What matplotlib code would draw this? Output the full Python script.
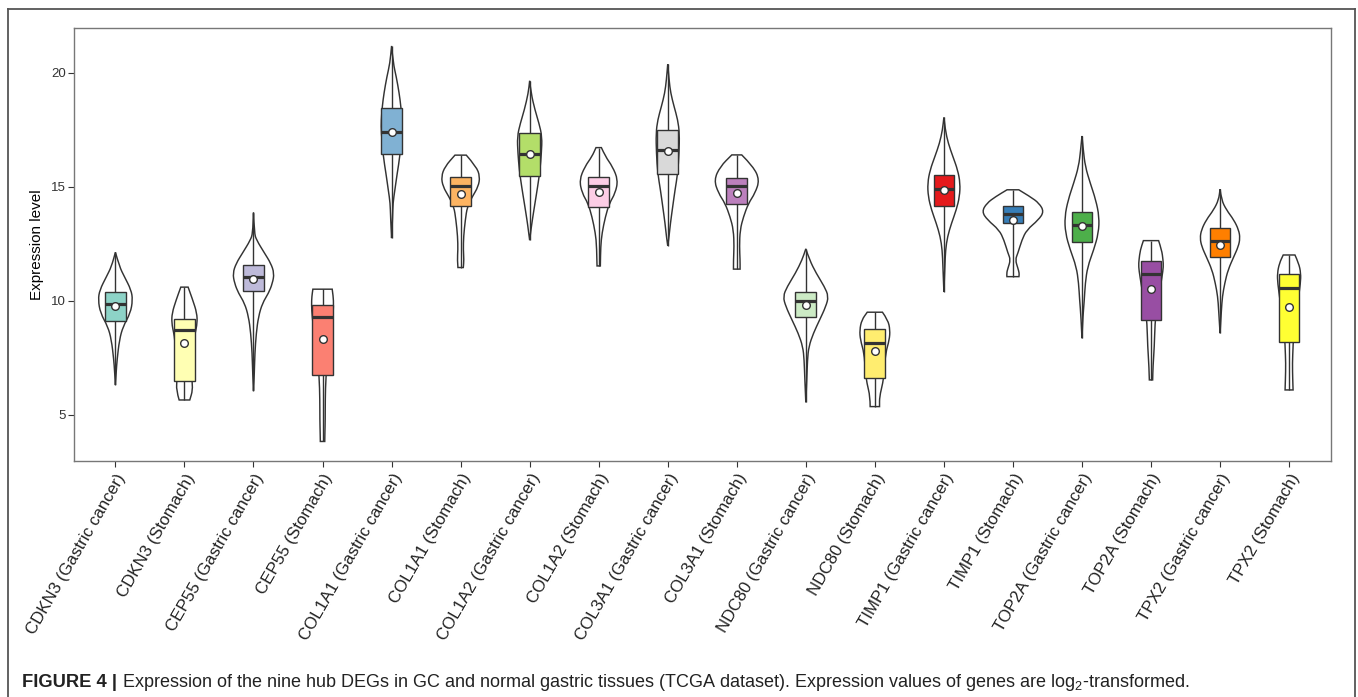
import matplotlib
matplotlib.use('Agg')
import matplotlib.pyplot as plt
from matplotlib.path import Path
from matplotlib.patches import PathPatch, Rectangle
from matplotlib.lines import Line2D

plt.rcParams['font.family'] = ['Liberation Sans', 'DejaVu Sans']
plt.rcParams['mathtext.fontset'] = 'custom'
plt.rcParams['mathtext.rm'] = 'Liberation Sans'
plt.rcParams['mathtext.it'] = 'Liberation Sans:italic'

labels = ['CDKN3 (Gastric cancer)', 'CDKN3 (Stomach)', 'CEP55 (Gastric cancer)', 'CEP55 (Stomach)',
          'COL1A1 (Gastric cancer)', 'COL1A1 (Stomach)', 'COL1A2 (Gastric cancer)', 'COL1A2 (Stomach)',
          'COL3A1 (Gastric cancer)', 'COL3A1 (Stomach)', 'NDC80 (Gastric cancer)', 'NDC80 (Stomach)',
          'TIMP1 (Gastric cancer)', 'TIMP1 (Stomach)', 'TOP2A (Gastric cancer)', 'TOP2A (Stomach)',
          'TPX2 (Gastric cancer)', 'TPX2 (Stomach)']

# box stats
q3 = [10.39, 9.20, 11.57, 9.80, 18.44, 15.43, 17.37, 15.40, 17.50,
      15.37, 10.37, 8.76, 15.51, 14.17, 13.90, 11.74, 13.20, 11.16]
medians = [9.84, 8.71, 11.05, 9.29, 17.41, 15.02, 16.42, 15.03, 16.61,
           15.03, 9.96, 8.16, 14.88, 13.79, 13.32, 11.18, 12.62, 10.56]
q1 = [9.11, 6.49, 10.43, 6.73, 16.42, 14.15, 15.48, 14.10, 15.56,
      14.23, 9.29, 6.62, 14.15, 13.39, 12.59, 9.15, 11.90, 8.18]
means = [9.77, 8.13, 10.94, 8.30, 17.38, 14.67, 16.42, 14.75, 16.54,
         14.71, 9.81, 7.81, 14.86, 13.54, 13.25, 10.51, 12.44, 9.71]

# violin outlines: (expression value, density half-width), top to bottom
density = [
    [(12.12, 0), (11.49, 0.058), (11.05, 0.13), (10.47, 0.227), (10.03, 0.25), (9.45, 0.217),
     (8.86, 0.11), (8.28, 0.058), (7.40, 0.024), (6.9, 0.012), (6.30, 0)],
    [(10.59, 0.053), (10.03, 0.12), (9.45, 0.18), (9.01, 0.185), (8.57, 0.155), (8.28, 0.14),
     (7.69, 0.13), (7.11, 0.12), (6.52, 0.106), (6.08, 0.12), (5.64, 0.077)],
    [(13.86, 0), (12.96, 0.012), (12.66, 0.043), (12.08, 0.16), (11.64, 0.25), (11.20, 0.30),
     (10.76, 0.275), (10.32, 0.217), (9.89, 0.13), (9.30, 0.072), (8.57, 0.04), (7.69, 0.02),
     (6.82, 0.012), (6.04, 0)],
    [(10.50, 0.14), (10.18, 0.155), (9.81, 0.16), (9.3, 0.15), (8.5, 0.12), (7.5, 0.08),
     (6.67, 0.048), (5.64, 0.039), (4.77, 0.039), (4.18, 0.034), (3.82, 0.032)],
    [(21.17, 0), (20.41, 0.024), (19.82, 0.068), (19.10, 0.11), (18.51, 0.135), (17.9, 0.15),
     (17.4, 0.15), (16.32, 0.12), (15.59, 0.082), (14.86, 0.048), (14.27, 0.02), (13.68, 0.015),
     (12.74, 0)],
    [(16.38, 0.082), (15.88, 0.227), (15.44, 0.28), (15.0, 0.256), (14.56, 0.17), (14.12, 0.097),
     (13.54, 0.068), (12.81, 0.043), (12.22, 0.039), (11.79, 0.048), (11.45, 0.039)],
    [(19.64, 0), (19.10, 0.02), (18.36, 0.077), (17.78, 0.135), (17.19, 0.18), (16.46, 0.17),
     (15.73, 0.15), (15.0, 0.116), (14.27, 0.077), (13.54, 0.039), (13.1, 0.019), (12.65, 0)],
    [(16.71, 0.039), (16.32, 0.097), (15.88, 0.2), (15.29, 0.28), (14.71, 0.24), (14.27, 0.155),
     (13.68, 0.097), (12.96, 0.048), (12.37, 0.029), (11.52, 0.024)],
    [(20.37, 0), (19.68, 0.019), (19.10, 0.043), (18.51, 0.092), (17.93, 0.145), (17.34, 0.17),
     (16.46, 0.164), (15.59, 0.145), (14.86, 0.106), (14.12, 0.072), (13.39, 0.039),
     (12.81, 0.019), (12.40, 0)],
    [(16.39, 0.072), (15.88, 0.24), (15.29, 0.33), (14.71, 0.265), (14.27, 0.17), (13.68, 0.097),
     (13.1, 0.048), (12.37, 0.039), (11.79, 0.048), (11.38, 0.048)],
    [(12.27, 0), (11.79, 0.053), (11.2, 0.15), (10.61, 0.27), (10.18, 0.33), (9.74, 0.29),
     (9.15, 0.2), (8.57, 0.11), (7.98, 0.043), (7.40, 0.024), (6.52, 0.014), (5.54, 0)],
    [(9.49, 0.11), (9.15, 0.19), (8.71, 0.22), (8.28, 0.21), (7.69, 0.155), (6.96, 0.14),
     (6.38, 0.116), (5.79, 0.068), (5.35, 0.068)],
    [(18.04, 0), (17.49, 0.02), (16.90, 0.063), (16.32, 0.13), (15.73, 0.2), (15.15, 0.236),
     (14.56, 0.227), (13.98, 0.18), (13.39, 0.11), (12.81, 0.053), (12.22, 0.024),
     (11.49, 0.014), (10.39, 0)],
    [(14.86, 0.085), (14.56, 0.25), (14.27, 0.38), (13.90, 0.45), (13.54, 0.37), (13.1, 0.2),
     (12.66, 0.13), (12.08, 0.072), (11.79, 0.034), (11.42, 0.072), (11.20, 0.092), (11.05, 0.087)],
    [(17.22, 0), (16.61, 0.019), (15.88, 0.048), (15.15, 0.12), (14.42, 0.2), (13.68, 0.25),
     (12.96, 0.24), (12.22, 0.17), (11.49, 0.082), (10.76, 0.048), (10.03, 0.034), (9.30, 0.014),
     (8.35, 0)],
    [(12.63, 0.11), (12.22, 0.155), (11.79, 0.174), (11.49, 0.18), (11.05, 0.16), (10.3, 0.12),
     (9.6, 0.08), (9.01, 0.058), (7.98, 0.048), (7.11, 0.029), (6.52, 0.024)],
    [(14.88, 0), (14.42, 0.02), (13.98, 0.092), (13.54, 0.2), (13.10, 0.27), (12.74, 0.29),
     (12.37, 0.265), (11.93, 0.2), (11.35, 0.116), (10.76, 0.068), (10.18, 0.034), (9.59, 0.02),
     (8.57, 0)],
    [(12.0, 0.085), (11.64, 0.14), (11.20, 0.17), (10.76, 0.165), (10.0, 0.13), (9.0, 0.09),
     (8.18, 0.06), (7.98, 0.058), (7.25, 0.048), (6.52, 0.053), (6.08, 0.058)],
]

box_colors = ['#8DD3C7', '#FFFFB3', '#BEBADA', '#FB8072', '#80B1D3', '#FDB462',
              '#B3DE69', '#FCCDE5', '#D9D9D9', '#BC80BD', '#CCEBC5', '#FFED6F',
              '#E41A1C', '#377EB8', '#4DAF4A', '#984EA3', '#FF7F00', '#FFFF33']

EDGE = '#333333'


def side_path(pts):
    # smooth one side: quadratic segments through midpoints
    verts = [pts[0]]
    codes = [Path.LINETO]
    for k in range(1, len(pts) - 1):
        mid = ((pts[k][0] + pts[k + 1][0]) / 2, (pts[k][1] + pts[k + 1][1]) / 2)
        verts += [pts[k], mid]
        codes += [Path.CURVE3, Path.CURVE3]
    verts.append(pts[-1])
    codes.append(Path.LINETO)
    return verts, codes


def violin_path(x, prof):
    right = [(x + w, v) for v, w in prof]
    left = [(x - w, v) for v, w in reversed(prof)]
    rv, rc = side_path(right)
    lv, lc = side_path(left)
    verts = rv + lv + [right[0]]
    codes = [Path.MOVETO] + rc[1:] + lc + [Path.CLOSEPOLY]
    return Path(verts, codes)


fig = plt.figure(figsize=(13.58, 6.97), dpi=100)
ax = fig.add_axes([74 / 1358, 1 - 461.3 / 697, (1330.5 - 74) / 1358, (461.3 - 27.7) / 697])

bw = 0.3
for i, prof in enumerate(density):
    ax.add_patch(PathPatch(violin_path(i, prof), facecolor='white', edgecolor=EDGE, lw=1.05, zorder=2))
    # whiskers to the data extremes
    ax.plot([i, i], [q3[i], prof[0][0]], color=EDGE, lw=1.0, zorder=3, solid_capstyle='butt')
    ax.plot([i, i], [q1[i], prof[-1][0]], color=EDGE, lw=1.0, zorder=3, solid_capstyle='butt')
    ax.add_patch(Rectangle((i - bw / 2, q1[i]), bw, q3[i] - q1[i], facecolor=box_colors[i],
                           edgecolor=EDGE, lw=1.0, zorder=4))
    ax.plot([i - bw / 2, i + bw / 2], [medians[i], medians[i]], color=EDGE, lw=2.3, zorder=5,
            solid_capstyle='butt')
    ax.plot(i, means[i], 'o', ms=5.5, mfc='white', mec=EDGE, mew=1.0, zorder=6)

ax.set_xlim(-0.6, 17.6)
ax.set_ylim(2.95, 21.97)
ax.set_yticks([5, 10, 15, 20])
ax.set_xticks(range(len(labels)))
ax.set_xticklabels(labels, rotation=60, ha='right', va='top', rotation_mode='anchor',
                   fontsize=12.2, color='#222222')
ax.tick_params(axis='y', labelsize=9.5, colors='#333333', length=4, width=0.8, pad=2)
ax.tick_params(axis='x', colors='#333333', length=4, width=0.8, pad=3)
for lab in ax.get_xticklabels():
    lab.set_color('#222222')
ax.set_ylabel('Expression level', fontsize=11, labelpad=5)
for s in ax.spines.values():
    s.set_color('#777777')
    s.set_linewidth(1.0)

# outer frame of the figure panel
fx0, fx1 = 7.5 / 1358, 1355 / 1358
fy1 = 1 - 8.5 / 697
for xs, ys in [([fx0, fx0], [-0.01, fy1]), ([fx0, fx1], [fy1, fy1]), ([fx1, fx1], [fy1, -0.01])]:
    fig.add_artist(Line2D(xs, ys, transform=fig.transFigure, color='#555555', lw=1.3))

# caption
cap_y = 1 - 687 / 697
t1 = fig.text(22 / 1358, cap_y, 'FIGURE 4 |', fontsize=13.2, fontweight='bold', va='baseline',
              color='#222222')
fig.canvas.draw()
bb = t1.get_window_extent()
fig.text((bb.x1 + 5) / 1358, cap_y,
         'Expression of the nine hub DEGs in GC and normal gastric tissues (TCGA dataset). '
         'Expression values of genes are log$_2$-transformed.',
         fontsize=13, va='baseline', color='#222222')

fig.savefig('out.png', dpi=100)
